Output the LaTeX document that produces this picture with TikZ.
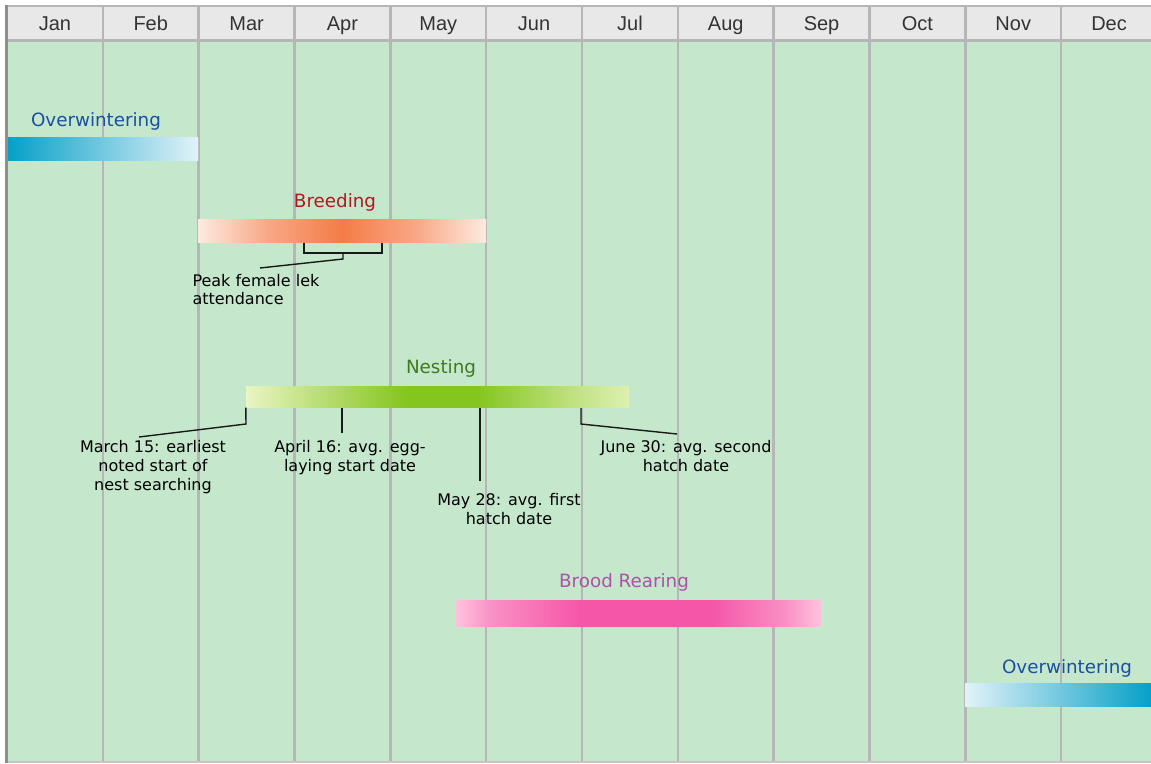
\documentclass[tikz,border=0pt]{standalone}
\usepackage{fontspec}
\newfontfamily\lab{DejaVu Sans}
\newfontfamily\hdr{Liberation Sans}
\definecolor{bgc}{HTML}{C5E8CD}
\definecolor{hdrbg}{HTML}{E8E8E8}
\definecolor{gridc}{HTML}{B6B6B6}
\definecolor{edgec}{HTML}{8E8E8E}
\definecolor{owdark}{HTML}{05A0C8}
\definecolor{owlight}{HTML}{E2F2F8}
\definecolor{owtext}{HTML}{1A4FA0}
\definecolor{brlight}{HTML}{FDEBE0}
\definecolor{brmid}{HTML}{F8A886}
\definecolor{brpeak}{HTML}{F47C46}
\definecolor{brtext}{HTML}{B0191E}
\definecolor{nelightl}{HTML}{EAF5C4}
\definecolor{nemidl}{HTML}{C2E282}
\definecolor{nelightr}{HTML}{DDF0B0}
\definecolor{nepeak}{HTML}{84C51E}
\definecolor{netext}{HTML}{3F7A1E}
\definecolor{pklight}{HTML}{FFC2DD}
\definecolor{pkmid}{HTML}{F98FC4}
\definecolor{pkpeak}{HTML}{F556A8}
\definecolor{pktext}{HTML}{B050A8}
\definecolor{hdrtext}{HTML}{333333}
\pgfdeclarehorizontalshading{broodsh}{100bp}{color(0bp)=(pklight); color(25bp)=(pklight); color(30bp)=(pkmid); color(42bp)=(pkpeak); color(60bp)=(pkpeak); color(70bp)=(pkmid); color(75bp)=(pklight); color(100bp)=(pklight)}
\pgfdeclarehorizontalshading{nestsh}{100bp}{color(0bp)=(nelightl); color(25bp)=(nelightl); color(33bp)=(nemidl); color(46bp)=(nepeak); color(55bp)=(nepeak); color(68bp)=(nemidl); color(75bp)=(nelightr); color(100bp)=(nelightr)}
\pgfdeclarehorizontalshading{breedsh}{100bp}{color(0bp)=(brlight); color(25bp)=(brlight); color(37bp)=(brmid); color(50bp)=(brpeak); color(63bp)=(brmid); color(75bp)=(brlight); color(100bp)=(brlight)}
\tikzset{
  month/.style={font=\hdr\fontsize{20}{24}\selectfont, text=hdrtext, inner sep=0pt, anchor=base},
  phase/.style={font=\lab\fontsize{18.3}{22}\selectfont, inner sep=0pt, anchor=base},
  note/.style={font=\lab\fontsize{16}{18.7}\selectfont, inner sep=0pt, anchor=north, align=center, text=black},
  bar/.style={rectangle, inner sep=0pt, draw=none},
  conn/.style={draw=black!90, line width=1.4pt},
  gridline/.style={draw=gridc, line width=2.5pt}
}
\begin{document}
\begin{tikzpicture}[x=1pt,y=-1pt]
\useasboundingbox (0,0) rectangle (1151,763);
\fill[white] (0,0) rectangle (1151,763);
\fill[bgc] (7,40) rectangle (1151,763);
\fill[hdrbg] (7,6) rectangle (1151,40);
\foreach \i in {1,...,11} {
  \draw[gridline] ({7+95.83*\i},6) -- ({7+95.83*\i},763);
}
\draw[gridc, line width=2.5pt] (5,6) -- (1151,6);
\draw[gridc, line width=2.5pt] (5,40.5) -- (1151,40.5);
\draw[gridc!80, line width=1.5pt] (5,762) -- (1151,762);
\draw[edgec, line width=3pt] (6.5,5) -- (6.5,763);
\foreach \m [count=\i] in {Jan,Feb,Mar,Apr,May,Jun,Jul,Aug,Sep,Oct,Nov,Dec} {
  \node[month] (mon\i) at ({7+95.83*\i-47.9},30) {\m};
}
% bars
\node[bar, minimum width=190pt, minimum height=23pt, left color=owdark, right color=owlight] (ow1) at (103,148.5) {};
\node[bar, minimum width=288pt, minimum height=23pt, shading=breedsh] (breed) at (342,230.5) {};
\node[bar, minimum width=383pt, minimum height=21pt, shading=nestsh] (nest) at (437.5,397) {};
\node[bar, minimum width=365pt, minimum height=26pt, shading=broodsh] (brood) at (638.5,613) {};
\node[bar, minimum width=186pt, minimum height=23pt, left color=owlight, right color=owdark] (ow2) at (1058,694.5) {};
% phase labels
\node[phase, text=owtext] (owl1) at (96,126) {Overwintering};
\node[phase, text=brtext] (breedl) at (335,207.3) {Breeding};
\node[phase, text=netext] (nestl) at (441,373) {Nesting};
\node[phase, text=pktext] (broodl) at (624,587) {Brood Rearing};
\node[phase, text=owtext] (owl2) at (1067,673) {Overwintering};
% notes
\node[note, align=left, anchor=north west] (peak) at (192.3,273.8) {Peak female lek\\attendance};
\node[note] (n1) at (153,440.5) {March 15: earliest\\noted start of\\nest searching};
\node[note] (n2) at (350,440.5) {April 16: avg. egg-\\laying start date};
\node[note] (n3) at (509,493) {May 28: avg. first\\hatch date};
\node[note] (n4) at (686,440.5) {June 30: avg. second\\hatch date};
% connector coordinates
\coordinate (bk1) at (304,243);
\coordinate (bk1d) at (304,253);
\coordinate (bk2d) at (382,253);
\coordinate (bk2) at (382,243);
\coordinate (bkm) at (343,253);
\coordinate (bkmd) at (343,259);
\coordinate (pk) at (260,268);
\draw[conn] (bk1) -- (bk1d) -- (bk2d) -- (bk2);
\draw[conn] (bkm) -- (bkmd) -- (pk);
\coordinate (a1) at (246,424);
\coordinate (a1e) at (139,437);
\draw[conn] (nest.south west) -- (a1) -- (a1e);
\coordinate (a2s) at (342,408);
\coordinate (a2e) at (342,433);
\draw[conn] (a2s) -- (a2e);
\coordinate (a3s) at (480,408);
\coordinate (a3e) at (480,481);
\draw[conn] (a3s) -- (a3e);
\coordinate (a4s) at (581,408);
\coordinate (a4) at (581,424);
\coordinate (a4e) at (677,434);
\draw[conn] (a4s) -- (a4) -- (a4e);
\end{tikzpicture}
\end{document}
